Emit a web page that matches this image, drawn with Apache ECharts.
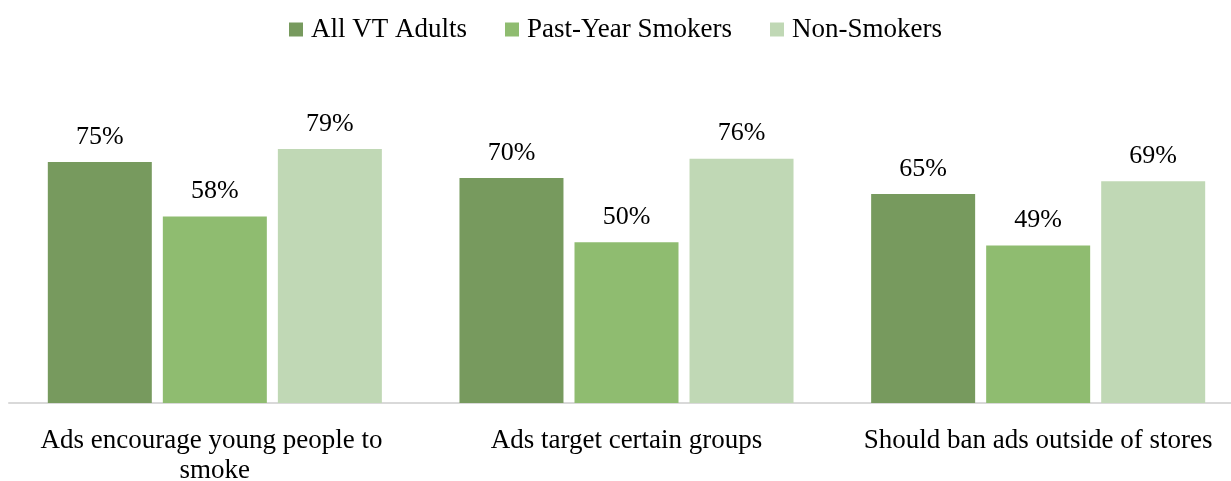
<!DOCTYPE html>
<html><head><meta charset="utf-8">
<script src="https://cdn.jsdelivr.net/npm/echarts@6/dist/echarts.min.js"></script>
<style>html,body{margin:0;padding:0;background:#fff}#c{width:1231px;height:481px}</style>
</head><body><div id="c"></div>
<script>
const categories = ["Ads encourage young people to smoke", "Ads target certain groups", "Should ban ads outside of stores"];
const seriesNames = ["All VT Adults", "Past-Year Smokers", "Non-Smokers"];
const allAdults = [75, 70, 65];
const pastYearSmokers = [58, 50, 49];
const nonSmokers = [79, 76, 69];
const colors = ["#779a5e", "#8fbc70", "#c0d8b5"];
const font = "'Liberation Serif', 'DejaVu Serif', serif";

const chart = echarts.init(document.getElementById('c'));
const mk = (name, data, color) => ({
  name, type: 'bar', data,
  barWidth: 104, barGap: '10.6%',
  itemStyle: { color },
  label: { show: true, position: 'top', distance: 12, formatter: '{c}%', fontFamily: font, fontSize: 26, color: '#000' }
});
chart.setOption({
  animation: false,
  textStyle: { fontFamily: font },
  legend: {
    top: 11, left: 'center', itemWidth: 14, itemHeight: 14, itemGap: 38,
    icon: 'rect',
    textStyle: { fontFamily: font, fontSize: 27, color: '#000', padding: [0, 0, 0, 3] },
    data: seriesNames
  },
  grid: { left: 9, width: 1235, top: 81.5, bottom: 78, containLabel: false, outerBoundsMode: 'none' },
  xAxis: {
    type: 'category', data: categories,
    axisLine: { lineStyle: { color: '#d9d9d9', width: 2 } },
    axisTick: { show: false },
    axisLabel: { fontFamily: font, fontSize: 27, color: '#000', margin: 23, width: 385, overflow: 'break', lineHeight: 30, interval: 0 }
  },
  yAxis: { type: 'value', min: 0, max: 100, show: false, splitLine: { show: false } },
  series: [
    mk(seriesNames[0], allAdults, colors[0]),
    mk(seriesNames[1], pastYearSmokers, colors[1]),
    mk(seriesNames[2], nonSmokers, colors[2])
  ]
});
</script></body></html>
